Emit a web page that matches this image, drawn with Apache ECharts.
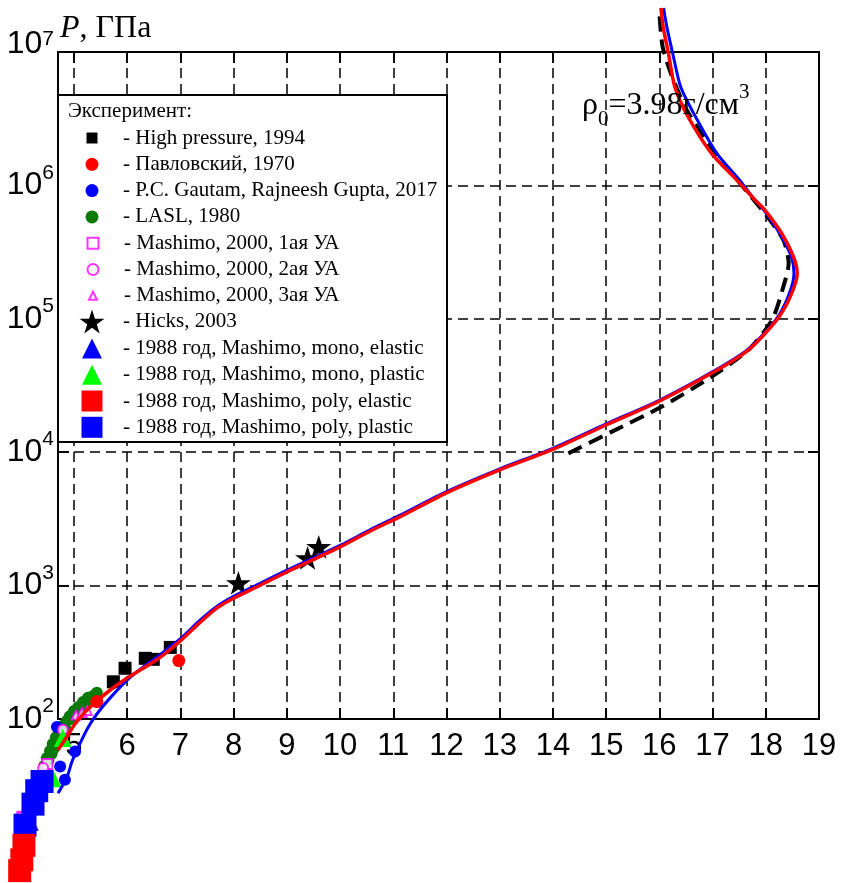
<!DOCTYPE html>
<html>
<head>
<meta charset="utf-8">
<script src="https://cdn.jsdelivr.net/npm/echarts@6/dist/echarts.min.js"></script>
<style>
  html, body { margin: 0; padding: 0; background: #fff; }
  #chart { width: 842px; height: 883px; }
</style>
</head>
<body>
<div id="chart"></div>
<script>
// Shock Hugoniot of Al2O3 (rho0 = 3.98 g/cm^3): density (g/cm^3) vs pressure (GPa)

// ---- axes ----
const xTickValues = [5, 6, 7, 8, 9, 10, 11, 12, 13, 14, 15, 16, 17, 18, 19];
const xRange = [4.7, 19];
const pRange = [100, 1e7];

// ---- experimental points [rho, P] ----
const highPressure1994 = [[5.74, 190], [5.96, 240], [6.34, 285], [6.49, 280], [6.81, 344]];
const pavlovsky1970 = [[5.43, 135], [6.97, 274]];
const gautam2017 = [[4.68, 87], [5.02, 57], [4.74, 44], [4.83, 35]];
const lasl1980 = [
  [4.44, 44.5], [4.49, 51], [4.52, 49], [4.55, 57.5], [4.58, 55], [4.60, 65], [4.62, 60],
  [4.66, 73], [4.70, 70], [4.74, 81], [4.79, 89], [4.84, 84], [4.87, 97], [4.92, 105],
  [4.95, 100], [5.0, 115], [5.05, 108], [5.08, 123], [5.10, 118], [5.17, 134], [5.22, 128],
  [5.26, 144], [5.30, 140], [5.36, 149], [5.38, 143], [5.43, 157]
];
const mashimo2000ua1 = [[4.50, 46], [4.03, 18.5]];
const mashimo2000ua2 = [[4.42, 43], [4.79, 83], [4.02, 18.4]];
const mashimo2000ua3 = [[5.04, 107], [5.15, 112], [5.25, 116]];
const hicks2003 = [[8.09, 1047], [9.39, 1611], [9.60, 1950]];
const mashimo1988MonoElastic = [[4.17, 17]];
const mashimo1988MonoPlastic = [[4.79, 72], [4.60, 36]];
const mashimo1988PolyPlastic = [[4.40, 34], [4.30, 29], [4.23, 23], [4.08, 16]];
const mashimo1988PolyElastic = [[4.06, 11.3], [4.02, 8.8], [3.98, 7.3]];

// ---- calculated Hugoniots [rho, P] ----
const curveRed = [
  [4.70, 58.6], [4.85, 72], [5.02, 91.7], [5.21, 113], [5.43, 136], [5.68, 165], [6.0, 203],
  [6.34, 245], [6.62, 290], [7.0, 385], [7.37, 530], [7.69, 680], [8.0, 803], [8.47, 993],
  [9.01, 1271], [9.51, 1574], [10.01, 1959], [10.58, 2580], [11.14, 3300], [11.99, 4940],
  [12.99, 7350], [14.0, 10500], [15.0, 16000], [15.98, 23900], [16.98, 39000], [17.67, 58300],
  [18.21, 98600], [18.46, 146600], [18.59, 219000], [18.52, 292000], [18.30, 436000],
  [17.98, 655000], [17.80, 776000], [17.48, 1.07e6], [16.98, 1.74e6], [16.54, 3.27e6],
  [16.29, 5.5e6], [16.17, 9.8e6], [16.07, 1.55e7], [16.03, 2.14e7]
];
const curveBlue = [
  [4.70, 27.8], [4.87, 36.7], [4.96, 47.6], [5.11, 65], [5.26, 85.6], [5.43, 109], [5.68, 144],
  [6.06, 206], [6.56, 292], [7.0, 400], [7.37, 550], [7.69, 700], [8.0, 830], [8.47, 1025],
  [9.01, 1310], [9.51, 1620], [10.01, 2010], [10.58, 2640], [11.14, 3390], [11.99, 5040],
  [12.99, 7480], [14.0, 10700], [15.0, 16300], [15.98, 24300], [16.98, 39700], [17.67, 59300],
  [18.19, 98600], [18.42, 146600], [18.53, 219000], [18.48, 292000], [18.26, 436000],
  [17.96, 655000], [17.78, 790000], [17.53, 1.07e6], [17.08, 1.74e6], [16.68, 3.27e6],
  [16.40, 5.5e6], [16.25, 9.8e6], [16.14, 1.55e7], [16.08, 2.14e7]
];
const curveDashed = [
  [14.29, 9800], [15.1, 14200], [16.04, 21900], [16.98, 36800], [17.67, 58300], [18.12, 98600],
  [18.33, 174000], [18.43, 260000], [18.33, 390000], [17.98, 617000], [17.55, 1.0e6],
  [16.92, 2.07e6], [16.51, 3.7e6], [16.23, 6.7e6], [16.06, 1.1e7], [16.0, 2.0e7]
];

const STAR = 'path://M50,2L61.2,36.6L97.6,36.6L68.2,58L79.4,92.6L50,71.2L20.6,92.6L31.8,58L2.4,36.6L38.8,36.6Z';
const SERIF = 'Liberation Serif, Times New Roman, serif';
const SANS = 'Liberation Sans, Arial, sans-serif';

// experiment series, in legend order; size = marker size on plot, legendSize = marker in legend
const experiments = [
  { name: 'High pressure, 1994', data: highPressure1994, symbol: 'rect', size: 13, legendSize: 11, color: '#000000' },
  { name: 'Павловский, 1970', data: pavlovsky1970, symbol: 'circle', size: 13, legendSize: 13, color: '#ff0000' },
  { name: 'P.C. Gautam, Rajneesh Gupta, 2017', data: gautam2017, symbol: 'circle', size: 12, legendSize: 13, color: '#0000ff' },
  { name: 'LASL, 1980', data: lasl1980, symbol: 'circle', size: 12, legendSize: 13, color: '#0a7a0a' },
  { name: 'Mashimo, 2000, 1ая УА', data: mashimo2000ua1, symbol: 'emptyRect', size: 10, legendSize: 11, color: '#ff00ff' },
  { name: 'Mashimo, 2000, 2ая УА', data: mashimo2000ua2, symbol: 'emptyCircle', size: 10, legendSize: 11, color: '#ff00ff' },
  { name: 'Mashimo, 2000, 3ая УА', data: mashimo2000ua3, symbol: 'emptyTriangle', size: 9, legendSize: 8, color: '#ff00ff' },
  { name: 'Hicks, 2003', data: hicks2003, symbol: STAR, size: 25, legendSize: 25, color: '#000000' },
  { name: '1988 год, Mashimo, mono, elastic', data: mashimo1988MonoElastic, symbol: 'triangle', size: 18, legendSize: 20, color: '#0000ff' },
  { name: '1988 год, Mashimo, mono, plastic', data: mashimo1988MonoPlastic, symbol: 'triangle', size: 18, legendSize: 20, color: '#00ff00' },
  { name: '1988 год, Mashimo, poly, elastic', data: mashimo1988PolyElastic, symbol: 'rect', size: 23, legendSize: 21, color: '#ff0000' },
  { name: '1988 год, Mashimo, poly, plastic', data: mashimo1988PolyPlastic, symbol: 'rect', size: 23, legendSize: 21, color: '#0000ff' }
];
// drawing order on the plot (red squares over blue squares)
const drawOrder = [3, 2, 1, 0, 4, 5, 6, 7, 8, 9, 11, 10];

const scatterSeries = drawOrder.map(i => {
  const e = experiments[i];
  return {
    type: 'scatter', name: e.name, data: e.data, clip: false,
    symbol: e.symbol, symbolSize: e.size, symbolKeepAspect: true,
    itemStyle: e.symbol.indexOf('empty') === 0
      ? { color: e.color, borderColor: e.color, borderWidth: 1.5 }
      : { color: e.color, opacity: 1 },
    z: 2
  };
});

const lineSeries = [
  { name: 'calc-dashed', data: curveDashed, color: '#000', width: 4, type: [15, 8] },
  { name: 'calc-blue', data: curveBlue, color: '#0000ff', width: 3, type: 'solid' },
  { name: 'calc-red', data: curveRed, color: '#ff0000', width: 3.5, type: 'solid' }
].map(c => ({
  type: 'line', name: c.name, data: c.data, clip: false, symbol: 'none', showSymbol: false,
  smooth: 0.25, lineStyle: { color: c.color, width: c.width, type: c.type }, z: 3, silent: true
}));

// legend: one row per experiment
const legendRowY0 = 138, legendRowStep = 26.3, legendSymbolX = 92, legendTextX = 123, legendLine = 21;
const legends = experiments.map((e, i) => {
  const s = e.legendSize;
  const rowY = legendRowY0 + i * legendRowStep;
  return {
    orient: 'vertical', padding: 0, itemGap: 0, selectedMode: false,
    left: legendSymbolX - s / 2, top: rowY - Math.max(s, legendLine) / 2,
    itemWidth: s, itemHeight: s, symbolKeepAspect: true,
    data: [e.name], formatter: '- {name}',
    textStyle: {
      fontFamily: SERIF, fontSize: 21, lineHeight: legendLine, color: '#000',
      padding: [0, 0, 0, legendTextX - (legendSymbolX + s / 2) - 5]
    },
    z: 6
  };
});

const gridLine = { show: true, lineStyle: { color: '#000', width: 1.5, type: [10, 6] } };
const innerTick = { show: true, inside: true, length: 11, lineStyle: { color: '#000', width: 2 } };

// "10^n" tick labels; the top one sits a little higher
const powerLabel = v => {
  const n = Math.round(Math.log10(v));
  return (n === 7 ? '{t|10}' : '{b|10}') + '{s|' + n + '}';
};

const chart = echarts.init(document.getElementById('chart'), null, { renderer: 'canvas' });
chart.setOption({
  animation: false,
  backgroundColor: '#fff',
  grid: { left: 58, top: 52, width: 761, height: 667, show: true, borderColor: '#000', borderWidth: 2, backgroundColor: 'transparent' },
  xAxis: [
    {
      type: 'value', min: xRange[0], max: xRange[1], position: 'bottom',
      axisLine: { show: true, lineStyle: { color: '#000', width: 2 } },
      axisTick: Object.assign({ customValues: xTickValues }, innerTick),
      axisLabel: {
        customValues: xTickValues, showMinLabel: true, showMaxLabel: true, hideOverlap: false,
        fontFamily: SANS, fontSize: 31, color: '#000', margin: 12
      },
      splitLine: gridLine
    },
    {
      type: 'value', min: xRange[0], max: xRange[1], position: 'top',
      axisLine: { show: false },
      axisTick: Object.assign({ customValues: xTickValues }, innerTick),
      axisLabel: { show: false }, splitLine: { show: false }
    }
  ],
  yAxis: [
    {
      type: 'log', logBase: 10, min: pRange[0], max: pRange[1], position: 'left',
      axisLine: { show: true, lineStyle: { color: '#000', width: 2 } },
      axisTick: innerTick,
      axisLabel: {
        margin: 4, color: '#000', showMinLabel: true, showMaxLabel: true,
        formatter: powerLabel,
        rich: {
          b: { fontFamily: SANS, fontSize: 32, lineHeight: 46, color: '#000' },
          t: { fontFamily: SANS, fontSize: 32, lineHeight: 46, padding: [0, 0, 16, 0], color: '#000' },
          s: { fontFamily: SANS, fontSize: 21, lineHeight: 21, verticalAlign: 'top', color: '#000' }
        }
      },
      splitLine: gridLine
    },
    {
      type: 'log', logBase: 10, min: pRange[0], max: pRange[1], position: 'right',
      axisLine: { show: false }, axisTick: innerTick,
      axisLabel: { show: false }, splitLine: { show: false }
    }
  ],
  legend: legends,
  graphic: {
    elements: [
      {
        type: 'rect', z: 5,
        shape: { x: 58, y: 95, width: 389, height: 347 },
        style: { fill: '#fff', stroke: '#000', lineWidth: 2 }
      },
      {
        type: 'text', z: 6, x: 68, y: 101,
        style: { text: 'Эксперимент:', fontFamily: SERIF, fontSize: 21, fill: '#000' }
      },
      {
        type: 'text', z: 6, x: 60, y: 13,
        style: {
          text: '{i|P}{r|, ГПа}',
          rich: {
            i: { fontFamily: SERIF, fontStyle: 'italic', fontSize: 32, fill: '#000' },
            r: { fontFamily: SERIF, fontSize: 32, fill: '#000' }
          }
        }
      },
      {
        type: 'text', z: 6, x: 582, y: 82,
        style: {
          text: '{a|ρ}{sub|0}{a|=3.98г/см}{sup|3}',
          rich: {
            a: { fontFamily: SERIF, fontSize: 32, lineHeight: 48, fill: '#000' },
            sub: { fontFamily: SERIF, fontSize: 21, lineHeight: 21, verticalAlign: 'bottom', fill: '#000' },
            sup: { fontFamily: SERIF, fontSize: 21, lineHeight: 21, verticalAlign: 'top', fill: '#000' }
          }
        }
      }
    ]
  },
  series: scatterSeries.concat(lineSeries)
});
</script>
</body>
</html>
